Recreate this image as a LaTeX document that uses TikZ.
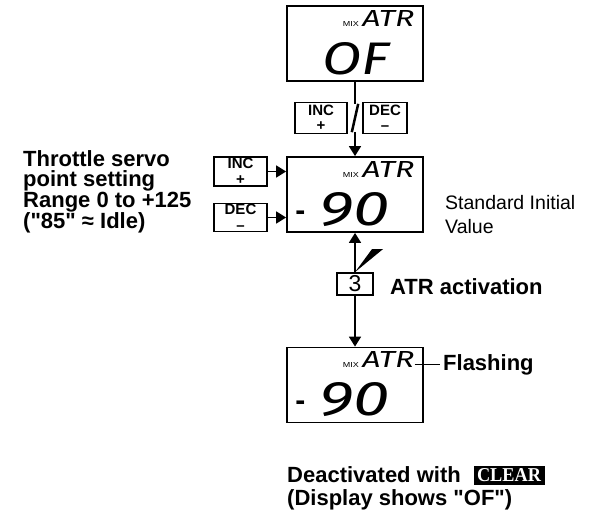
\documentclass[tikz,border=0pt]{standalone}
\usepackage{fontspec}
\setmainfont{Liberation Sans}
\newfontfamily\af{Liberation Sans}
\newfontfamily\lcd{Fira Sans Italic}
\newfontfamily\badgefont{Liberation Serif}
\usetikzlibrary{arrows.meta}
\begin{document}
\begin{tikzpicture}[x=1pt,y=-1pt,
  disp/.style={draw,line width=1.8pt,minimum width=136pt,minimum height=75pt,inner sep=0pt},
  key/.style={draw,line width=1.3pt,inner sep=0pt,align=center,font=\af\fontsize{15}{15.5}\selectfont\bfseries},
  arr/.style={line width=1.8pt,-{Triangle[width=12pt,length=10pt]}},
  lbl/.style={inner sep=0pt,font=\af\fontsize{22}{20.5}\selectfont\bfseries,align=left},
  lcdtxt/.style={inner sep=0pt,anchor=north west},
  minus/.style={inner sep=0pt,anchor=base west,font=\af\fontsize{30}{30}\selectfont\bfseries},
]
\useasboundingbox (0,0) rectangle (594,516);
% displays
\node[disp] (d1) at (355,43.5) {};
\node[disp] (d2) at (355,194.5) {};
\node[disp] (d3) at (355,385) {};
\foreach \d in {d1,d2,d3} {
  \node[lcdtxt] (\d-atr) at ([shift={(76,5)}]\d.north west) {\resizebox{52pt}{16pt}{\lcd ATR}};
  \node[inner sep=0pt,anchor=south east] (\d-mix) at ([shift={(-3,0)}]\d-atr.south west) {\resizebox{16pt}{5pt}{\af MIX}};
}
\node[lcdtxt] (v1) at ([shift={(36,37)}]d1.north west) {\resizebox{67pt}{32pt}{\lcd OF}};
\node[lcdtxt] (v2) at ([shift={(33,36)}]d2.north west) {\resizebox{70pt}{33pt}{\lcd 90}};
\node[minus] (m2) at ([shift={(9,64)}]d2.north west) {-};
\node[lcdtxt] (v3) at ([shift={(33,36)}]d3.north west) {\resizebox{70pt}{33pt}{\lcd 90}};
\node[minus] (m3) at ([shift={(9,64)}]d3.north west) {-};
% top keys
\node[key,minimum width=52pt,minimum height=31pt] (tinc) at (321,118) {INC\\+};
\node[key,minimum width=44pt,minimum height=31pt] (tdec) at (385,118) {DEC\\–};
\node[minimum width=6pt,minimum height=28pt,inner sep=0pt] (sl) at (355,118) {};
\draw[line width=2.5pt] (sl.south west) -- (sl.north east);
\draw[line width=1.8pt] (d1.south) -- (sl.north);
\draw[arr] (sl.south) -- (d2.north);
% left keys
\node[key,minimum width=53pt,minimum height=29pt] (linc) at (240.5,171.5) {INC\\+};
\node[key,minimum width=53pt,minimum height=28pt] (ldec) at (240.5,217.5) {DEC\\–};
\draw[arr] (linc.east) -- (linc.east -| d2.west);
\draw[arr] (ldec.east) -- (ldec.east -| d2.west);
% key 3
\node[draw,line width=1.8pt,minimum width=36pt,minimum height=22pt,inner sep=0pt,font=\af\fontsize{23}{23}\selectfont] (k3) at (355,284) {3};
\draw[arr] (k3.north) -- (k3.north |- d2.south);
\draw[arr] (k3.south) -- (k3.south |- d3.north);
\fill (k3.north) -- ++(17,-23) -- ++(11,0) -- cycle;
% labels
\node[lbl,anchor=north west] (thr) at (23,150) {Throttle servo\\point setting\\Range 0 to +125\\("85" ≈ Idle)};
\node[inner sep=0pt,anchor=north west,align=left,font=\af\fontsize{19.5}{24}\selectfont] (std) at (445,195) {Standard Initial\\Value};
\node[lbl,anchor=base west] (act) at (390,294) {ATR activation};
\node[lbl,anchor=base west] (fl) at (443,370) {Flashing};
\draw[line width=1.3pt,shorten >=3pt] (fl.west -| d3-atr.east) -- (fl.west);
\node[lbl,anchor=base west] (deact) at (287,482) {Deactivated with};
\node[fill=black,draw=black,inner sep=0pt,minimum width=70pt,minimum height=18pt,text=white] (clr) at (509,475) {\resizebox{64pt}{13pt}{\badgefont\bfseries CLEAR}};
\node[lbl,anchor=base west] (disp) at (287,505) {(Display shows "OF")};
\end{tikzpicture}
\end{document}
